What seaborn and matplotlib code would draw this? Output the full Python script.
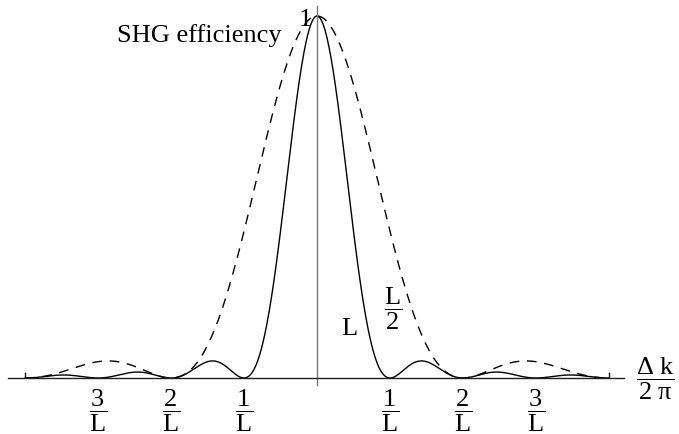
import numpy as np
import pandas as pd
import matplotlib
matplotlib.use("Agg")
import matplotlib.pyplot as plt
import seaborn as sns

# ---- chart content ----
crystal_lengths = [1.0, 0.5]            # crystal length in units of L (solid: L, dashed: L/2)
curve_names = ["L", "L/2"]
x_range = [-4.0, 4.0]                   # plotted range of Δk/2π in units of 1/L
tick_positions = [-3, -2, -1, 1, 2, 3]
tick_labels = [r"$\dfrac{3}{\mathrm{L}}$", r"$\dfrac{2}{\mathrm{L}}$", r"$\dfrac{1}{\mathrm{L}}$",
               r"$\dfrac{1}{\mathrm{L}}$", r"$\dfrac{2}{\mathrm{L}}$", r"$\dfrac{3}{\mathrm{L}}$"]
small_tick_positions = [-4, -2, 2, 4]
y_tick_positions = [1]
y_tick_labels = ["1"]

# SHG efficiency ~ sinc^2(Δk L / 2)
xs = np.linspace(x_range[0], x_range[1], 1601)
rows = []
for Lc, name in zip(crystal_lengths, curve_names):
    eff = np.sinc(Lc * xs) ** 2   # np.sinc(t) = sin(pi t)/(pi t)
    rows.append(pd.DataFrame({"dk": xs, "eff": eff, "curve": name}))
df = pd.concat(rows, ignore_index=True)

sns.set_theme(style="white")
SERIF = "Liberation Serif"
plt.rcParams["font.family"] = "serif"
plt.rcParams["font.serif"] = [SERIF, "DejaVu Serif"]
plt.rcParams["mathtext.fontset"] = "custom"
plt.rcParams["mathtext.rm"] = SERIF
plt.rcParams["mathtext.it"] = SERIF + ":italic"
plt.rcParams["mathtext.bf"] = SERIF + ":bold"
plt.rcParams["mathtext.sf"] = SERIF

fig = plt.figure(figsize=(6.79, 4.35), dpi=100)
ax = fig.add_axes([0, 0, 1, 1])
ax.set_facecolor("white")

sns.lineplot(data=df, x="dk", y="eff", style="curve", color="black",
             dashes={"L": "", "L/2": (7, 5.5)}, linewidth=1.0,
             legend=False, ax=ax, sort=False, estimator=None)

# pixel mapping: x_px = 317 + 73*x ; y_px = 379 - 362*y
ax.set_xlim(-317 / 73, (679 - 317) / 73)
ax.set_ylim((379 - 435) / 362, 379 / 362)

for s in ["top", "right"]:
    ax.spines[s].set_visible(False)
ax.spines["bottom"].set_position(("data", 0))
ax.spines["left"].set_position(("data", 0))
ax.spines["bottom"].set_bounds(-4.23, 4.2)
ax.spines["left"].set_bounds(-0.02, 1.028)
ax.spines["bottom"].set_color("#222222")
ax.spines["left"].set_color("#777777")
ax.spines["bottom"].set_linewidth(1.0)
ax.spines["left"].set_linewidth(1.0)

ax.set_xticks(tick_positions, tick_labels)
ax.set_xticks(small_tick_positions, minor=True)
ax.tick_params(axis="x", which="major", length=0, pad=6, labelsize=19, colors="black")
ax.tick_params(axis="x", which="minor", direction="in", length=4, width=1.0,
               color="#222222", bottom=True)
ax.set_yticks(y_tick_positions, y_tick_labels)
ax.tick_params(axis="y", which="major", length=0, pad=4, labelsize=19, colors="black")
for lab in ax.get_xticklabels() + ax.get_yticklabels():
    lab.set_family(SERIF)
ax.set_xlabel("")
ax.set_ylabel("")
ax.grid(False)

ax.text(-0.48, 0.95, "SHG efficiency", ha="right", va="center", fontsize=19,
        family=SERIF, color="black")
ax.text(0.44, 0.138, "L", ha="center", va="center", fontsize=19, family=SERIF, color="black")
ax.text(1.04, 0.193, r"$\dfrac{\mathrm{L}}{2}$", ha="center", va="center", fontsize=19,
        family=SERIF, color="black")
ax.text(4.63, 0.0, r"$\dfrac{\mathrm{Δ\ k}}{\mathrm{2\ π}}$", ha="center", va="center",
        fontsize=19, family=SERIF, color="black")

fig.savefig("out.png", dpi=100, facecolor="white")
